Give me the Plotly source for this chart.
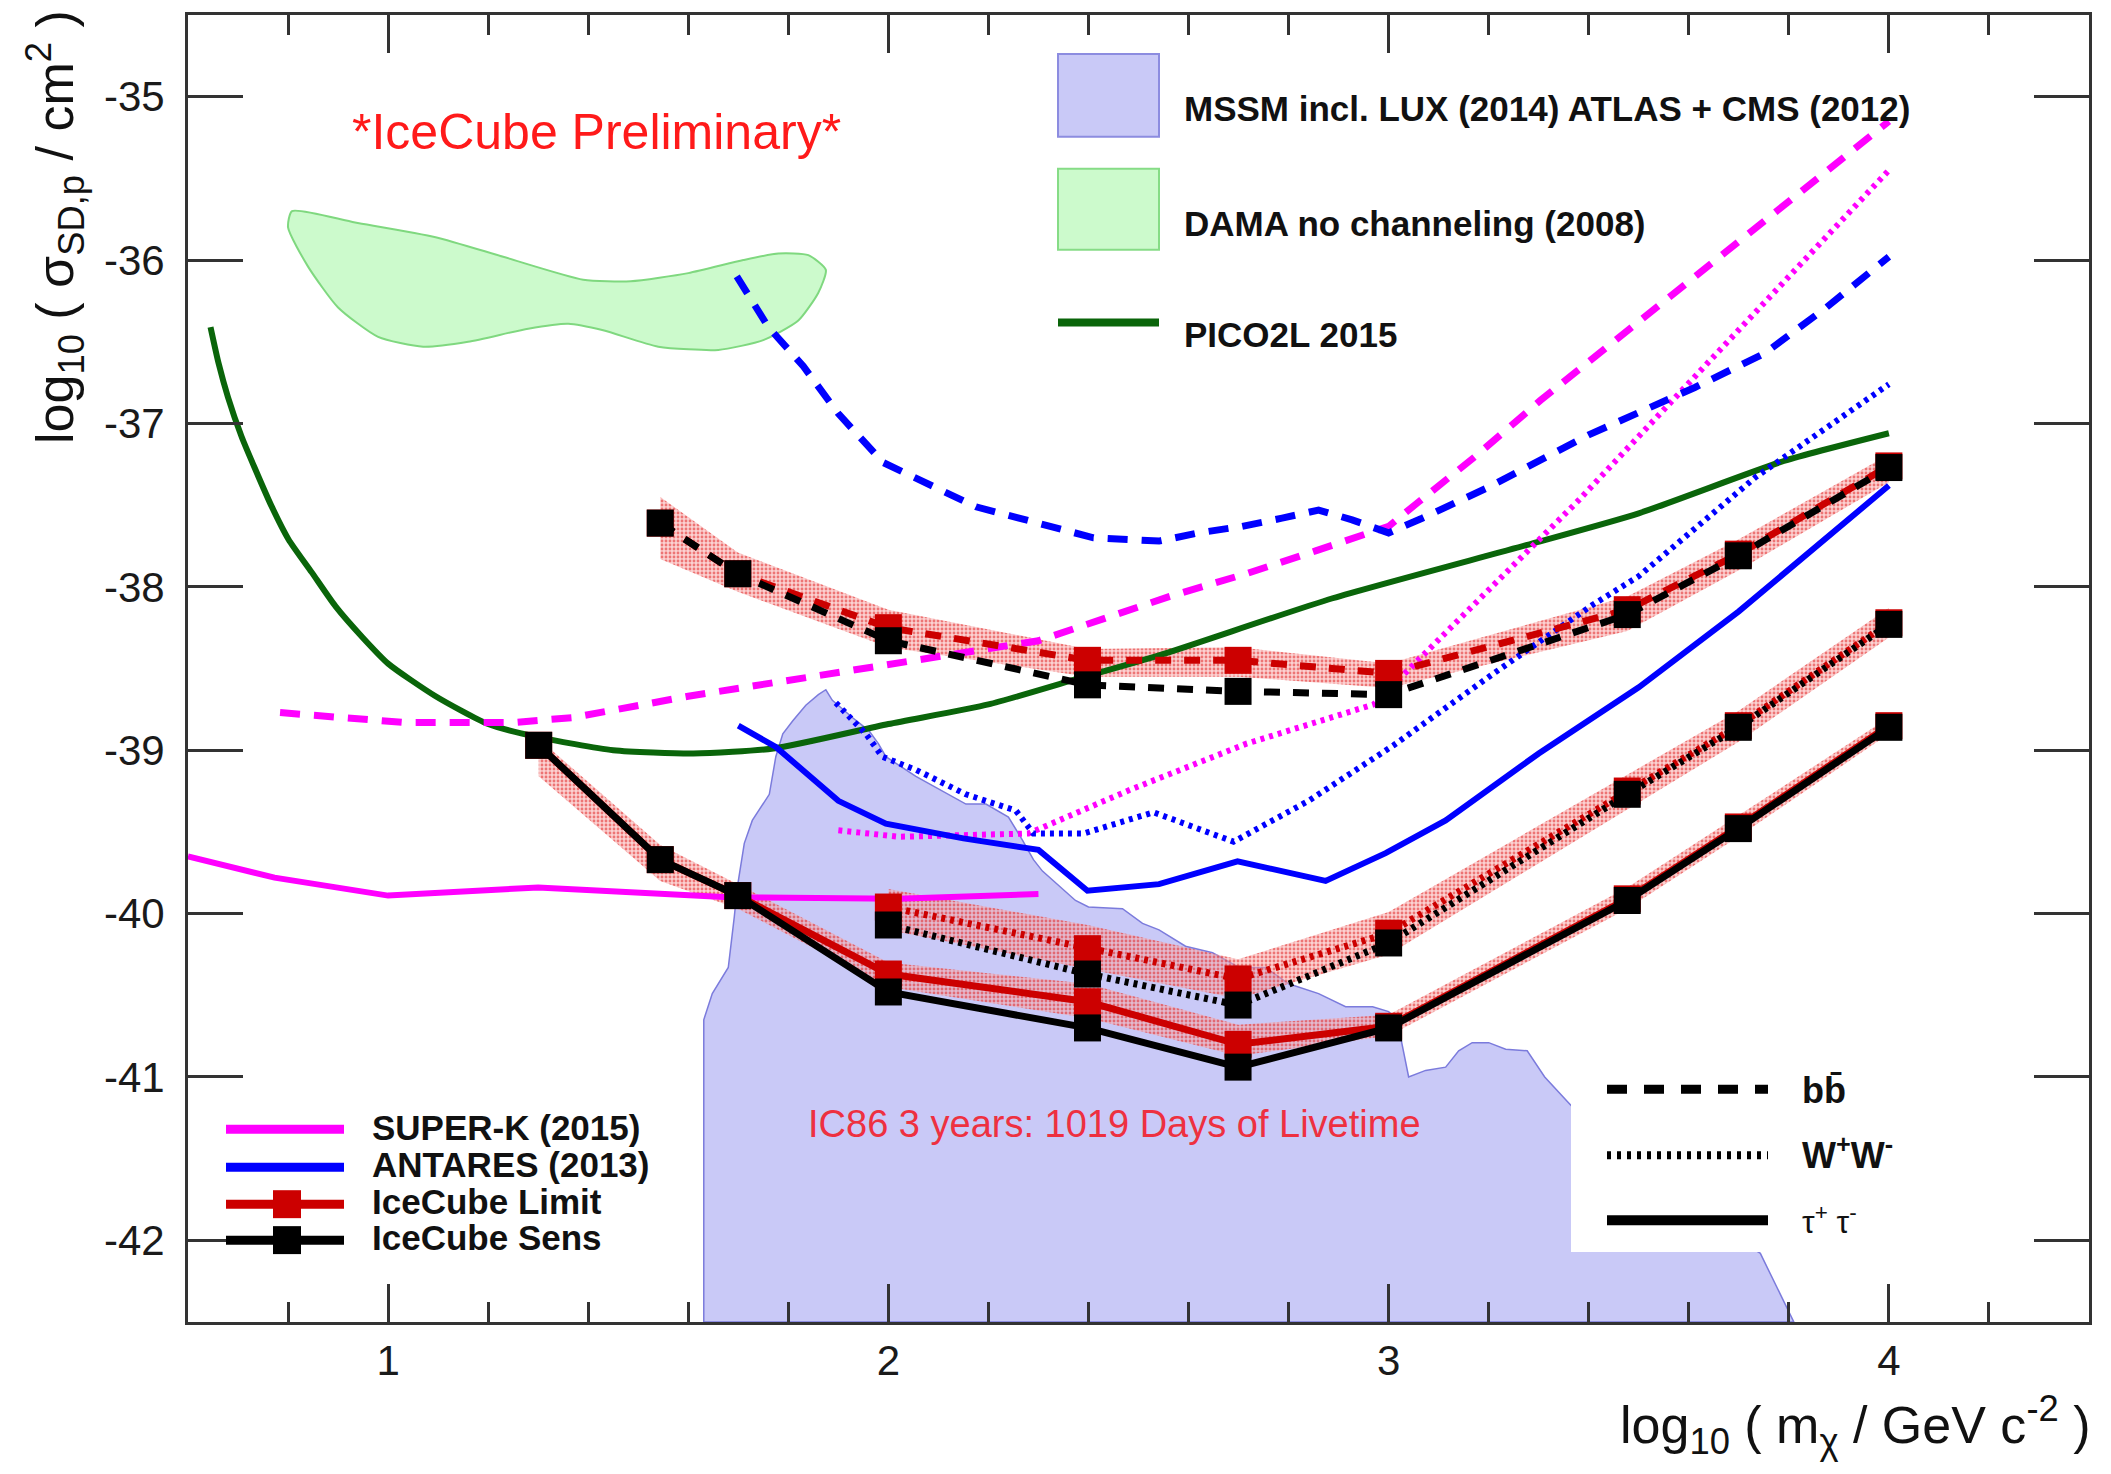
import plotly.graph_objects as go

# ---------------- data (log10 m [GeV], log10 sigma [cm^2]) ----------------
mass_bb = [1.544, 1.699, 2.0, 2.398, 2.699, 3.0, 3.477, 3.699, 4.0]
bb_sens = [-37.61, -37.92, -38.33, -38.60, -38.64, -38.66, -38.17, -37.81, -37.27]
bb_limit = [-37.61, -37.92, -38.25, -38.45, -38.45, -38.53, -38.14, -37.80, -37.26]
bb_band_lo = [-37.83, -38.03, -38.37, -38.55, -38.55, -38.62, -38.27, -37.90, -37.36]
bb_band_hi = [-37.45, -37.79, -38.14, -38.38, -38.37, -38.47, -38.06, -37.71, -37.19]

mass_ww = [2.0, 2.398, 2.699, 3.0, 3.477, 3.699, 4.0]
ww_sens = [-40.07, -40.37, -40.56, -40.18, -39.27, -38.86, -38.23]
ww_limit = [-39.96, -40.215, -40.40, -40.12, -39.25, -38.85, -38.22]
ww_band_lo = [-40.10, -40.34, -40.52, -40.25, -39.36, -38.95, -38.31]
ww_band_hi = [-39.85, -40.07, -40.28, -39.99, -39.15, -38.76, -38.13]

mass_tau = [1.301, 1.544, 1.699, 2.0, 2.398, 2.699, 3.0, 3.477, 3.699, 4.0]
tau_sens = [-38.97, -39.67, -39.89, -40.48, -40.70, -40.94, -40.70, -39.92, -39.48, -38.86]
tau_limit = [-38.97, -39.67, -39.89, -40.37, -40.54, -40.80, -40.69, -39.91, -39.47, -38.85]
tau_band_lo = [-39.16, -39.80, -39.97, -40.45, -40.64, -40.87, -40.75, -39.97, -39.53, -38.90]
tau_band_hi = [-38.93, -39.58, -39.82, -40.30, -40.43, -40.68, -40.62, -39.84, -39.40, -38.80]

pico_x = [0.645, 0.661, 0.68, 0.707, 0.733, 0.766, 0.801, 0.847, 0.895, 0.949, 1.0, 1.095,
          1.2, 1.3, 1.45, 1.61, 1.77, 2.0, 2.2, 2.37, 2.541, 2.888, 3.275, 3.50, 3.79, 4.0]
pico_y = [-36.41, -36.63, -36.84, -37.08, -37.27, -37.50, -37.71, -37.91, -38.12, -38.31,
          -38.47, -38.67, -38.84, -38.92, -39.0, -39.02, -38.99, -38.84, -38.72, -38.57,
          -38.42, -38.07, -37.745, -37.55, -37.23, -37.06]

sk_tau_x = [0.6, 0.773, 1.0, 1.30, 1.68, 2.02, 2.30]
sk_tau_y = [-39.65, -39.78, -39.89, -39.84, -39.90, -39.91, -39.88]

sk_bb_x = [0.784, 1.03, 1.255, 1.37, 1.60, 2.02, 2.30, 2.561, 2.715, 2.854, 3.0, 3.06,
           3.174, 3.303, 3.58, 3.81, 4.0]
sk_bb_y = [-38.77, -38.83, -38.83, -38.80, -38.67, -38.47, -38.33, -38.06, -37.92, -37.78,
           -37.63, -37.48, -37.20, -36.86, -36.18, -35.61, -35.15]

sk_ww_x = [1.90, 2.02, 2.28, 2.485, 2.716, 2.97, 3.38, 3.70, 4.0]
sk_ww_y = [-39.49, -39.53, -39.51, -39.24, -38.96, -38.72, -37.47, -36.43, -35.45]

ant_bb_x = [1.697, 1.76, 1.83, 1.90, 1.99, 2.175, 2.41, 2.541, 2.62, 2.707, 2.787, 2.86,
            2.927, 3.0, 3.067, 3.20, 3.40, 3.612, 3.752, 3.875, 4.0]
ant_bb_y = [-36.10, -36.41, -36.65, -36.94, -37.24, -37.51, -37.70, -37.72, -37.67, -37.63,
            -37.58, -37.53, -37.59, -37.67, -37.58, -37.39, -37.07, -36.78, -36.57, -36.29,
            -35.98]

ant_ww_x = [1.895, 1.955, 1.988, 2.055, 2.155, 2.255, 2.29, 2.39, 2.53, 2.69, 2.84, 3.01,
            3.21, 3.408, 3.50, 3.733, 4.0]
ant_ww_y = [-38.71, -38.90, -39.04, -39.12, -39.27, -39.37, -39.51, -39.51, -39.38, -39.56,
            -39.31, -38.97, -38.53, -38.11, -37.935, -37.33, -36.76]

ant_tau_x = [1.70, 1.775, 1.90, 1.995, 2.15, 2.30, 2.398, 2.541, 2.698, 2.874, 2.994, 3.114,
             3.30, 3.50, 3.70, 4.0]
ant_tau_y = [-38.85, -38.98, -39.31, -39.45, -39.54, -39.61, -39.86, -39.82, -39.68, -39.80,
             -39.63, -39.43, -39.02, -38.615, -38.15, -37.38]

mssm_x = [1.631, 1.631, 1.648, 1.68, 1.692, 1.698, 1.712, 1.728, 1.762, 1.775, 1.789, 1.809,
          1.835, 1.860, 1.875, 1.888, 1.928, 1.961, 1.98, 1.995, 2.055, 2.155, 2.195, 2.24,
          2.268, 2.29, 2.308, 2.374, 2.40, 2.468, 2.508, 2.541, 2.594, 2.648, 2.701, 2.754,
          2.80, 2.86, 2.914, 2.968, 3.0, 3.017, 3.04, 3.074, 3.114, 3.14, 3.167, 3.20, 3.234,
          3.277, 3.312, 3.36, 3.45, 3.6, 3.743, 3.779, 3.81, 1.631]
mssm_y = [-42.5, -40.65, -40.49, -40.33, -40.02, -39.84, -39.57, -39.43, -39.27, -39.04,
          -38.90, -38.82, -38.725, -38.66, -38.63, -38.695, -38.80, -38.88, -38.96, -39.04,
          -39.16, -39.33, -39.33, -39.41, -39.55, -39.67, -39.74, -39.92, -39.96, -39.97,
          -40.06, -40.10, -40.20, -40.24, -40.33, -40.33, -40.43, -40.49, -40.57, -40.57,
          -40.60, -40.65, -41.0, -40.96, -40.94, -40.84, -40.79, -40.79, -40.83, -40.84,
          -41.0, -41.16, -41.45, -41.8, -42.08, -42.31, -42.5, -42.5]

dama_x = [0.808, 0.934, 1.095, 1.23, 1.39, 1.485, 1.60, 1.71, 1.78, 1.84, 1.875, 1.86, 1.82,
          1.75, 1.66, 1.54, 1.43, 1.36, 1.28, 1.16, 1.07, 0.98, 0.90, 0.84, 0.80, 0.808]
dama_y = [-35.70, -35.77, -35.86, -35.98, -36.12, -36.13, -36.08, -36.0, -35.96, -35.97,
          -36.06, -36.20, -36.37, -36.49, -36.55, -36.53, -36.43, -36.39, -36.42, -36.50,
          -36.53, -36.47, -36.29, -36.04, -35.80, -35.70]

x_tick_vals = [1, 2, 3, 4]
x_tick_text = ["1", "2", "3", "4"]
y_tick_vals = [-42, -41, -40, -39, -38, -37, -36, -35]
y_tick_text = ["-42", "-41", "-40", "-39", "-38", "-37", "-36", "-35"]

# ---------------- layout helpers ----------------
W, H = 2111, 1474
ML, MR, MT, MB = 188, 22, 13, 152
PW, PH = W - ML - MR, H - MT - MB
FONT = "Liberation Sans, Arial, Helvetica, sans-serif"


def px(xf):
    return (xf - ML) / PW


def py(yf):
    return (H - MB - yf) / PH


RED = "#cc0000"
MAG = "#ff00ff"
BLUE = "#0000ff"
GREEN = "#0a650a"
BAND_PATTERN = dict(shape=".", fgcolor="#e01818", bgcolor="rgba(248,170,170,0.55)",
                    size=4, solidity=0.4)

fig = go.Figure()

# filled regions
fig.add_trace(go.Scatter(x=mssm_x, y=mssm_y, mode="lines", fill="toself",
                         fillcolor="#c9c9f7", line=dict(color="#7b7bdc", width=1.5),
                         hoverinfo="skip"))
fig.add_trace(go.Scatter(x=dama_x, y=dama_y, mode="lines", fill="toself",
                         fillcolor="#ccfacc", line=dict(color="#7fd87f", width=2, shape="spline",
                                                        smoothing=0.6),
                         hoverinfo="skip"))

# IceCube uncertainty bands
for m, lo, hi in [(mass_bb, bb_band_lo, bb_band_hi), (mass_ww, ww_band_lo, ww_band_hi),
                  (mass_tau, tau_band_lo, tau_band_hi)]:
    fig.add_trace(go.Scatter(x=m, y=lo, mode="lines", line=dict(width=0), hoverinfo="skip"))
    fig.add_trace(go.Scatter(x=m, y=hi, mode="lines", line=dict(width=0), fill="tonexty",
                             fillcolor="rgba(240,120,120,0.5)", fillpattern=BAND_PATTERN,
                             hoverinfo="skip"))

# other experiments
fig.add_trace(go.Scatter(x=pico_x, y=pico_y, mode="lines",
                         line=dict(color=GREEN, width=6, shape="spline", smoothing=0.6)))
fig.add_trace(go.Scatter(x=sk_tau_x, y=sk_tau_y, mode="lines", line=dict(color=MAG, width=6)))
fig.add_trace(go.Scatter(x=sk_bb_x, y=sk_bb_y, mode="lines",
                         line=dict(color=MAG, width=7, dash="20px,14px")))
fig.add_trace(go.Scatter(x=sk_ww_x, y=sk_ww_y, mode="lines",
                         line=dict(color=MAG, width=6, dash="4px,5px")))
fig.add_trace(go.Scatter(x=ant_bb_x, y=ant_bb_y, mode="lines",
                         line=dict(color=BLUE, width=7, dash="20px,14px")))
fig.add_trace(go.Scatter(x=ant_ww_x, y=ant_ww_y, mode="lines",
                         line=dict(color=BLUE, width=6, dash="4px,5px")))
fig.add_trace(go.Scatter(x=ant_tau_x, y=ant_tau_y, mode="lines", line=dict(color=BLUE, width=6)))

# IceCube limits (red) and sensitivities (black)
for m, ys, dash in [(mass_bb, bb_limit, "16px,13px"), (mass_ww, ww_limit, "4px,5px"),
                    (mass_tau, tau_limit, "solid")]:
    fig.add_trace(go.Scatter(x=m, y=ys, mode="lines+markers",
                             line=dict(color=RED, width=7, dash=dash),
                             marker=dict(symbol="square", size=27, color=RED)))
for m, ys, dash in [(mass_bb, bb_sens, "16px,13px"), (mass_ww, ww_sens, "4px,5px"),
                    (mass_tau, tau_sens, "solid")]:
    fig.add_trace(go.Scatter(x=m, y=ys, mode="lines+markers",
                             line=dict(color="black", width=7, dash=dash),
                             marker=dict(symbol="square", size=27, color="black")))

shapes = []
annotations = []


def text(x, y, s, size, color="#111", bold=False, xanchor="left", yanchor="middle", angle=0):
    if bold:
        s = "<b>" + s + "</b>"
    annotations.append(dict(x=px(x), y=py(y), xref="paper", yref="paper", text=s,
                            showarrow=False, xanchor=xanchor, yanchor=yanchor,
                            textangle=angle, font=dict(family=FONT, size=size, color=color)))


def hline(x0, x1, y, color, width, dash="solid"):
    shapes.append(dict(type="line", xref="paper", yref="paper", x0=px(x0), x1=px(x1),
                       y0=py(y), y1=py(y), line=dict(color=color, width=width, dash=dash),
                       layer="above"))


def rect(x0, y0, x1, y1, fill, line_color=None, lw=0):
    shapes.append(dict(type="rect", xref="paper", yref="paper", x0=px(x0), x1=px(x1),
                       y0=py(y1), y1=py(y0), fillcolor=fill,
                       line=dict(color=line_color or fill, width=lw), layer="above"))


# top-right legend
rect(1058, 52, 1159, 135, "#c9c9f7", "#8c8ce0", 2)
text(1182, 107, "MSSM incl. LUX (2014) ATLAS + CMS (2012)", 35, bold=True)
rect(1058, 167, 1159, 248, "#ccfacc", "#86dc86", 2)
text(1182, 222, "DAMA no channeling (2008)", 35, bold=True)
hline(1058, 1159, 321, GREEN, 8)
text(1182, 333, "PICO2L 2015", 35, bold=True)

# bottom-left legend
hline(226, 344, 1129, MAG, 9)
text(370, 1127, "SUPER-K (2015)", 35, bold=True)
hline(226, 344, 1167, BLUE, 9)
text(370, 1164, "ANTARES (2013)", 35, bold=True)
hline(226, 344, 1204, RED, 9)
rect(273, 1190, 301, 1218, RED)
text(370, 1201, "IceCube Limit", 35, bold=True)
hline(226, 344, 1240, "black", 9)
rect(273, 1226, 301, 1254, "black")
text(370, 1237, "IceCube Sens", 35, bold=True)

# bottom-right legend (white box)
rect(1571, 1058, 1905, 1252, "white")
hline(1607, 1768, 1089, "black", 9, "20px,17px")
hline(1607, 1768, 1155, "black", 8, "4px,6px")
hline(1607, 1768, 1220, "black", 10)
text(1800, 1090, "bb\u0304", 36, bold=True)
text(1800, 1153, "W<sup>+</sup>W<sup>-</sup>", 36, bold=True)
text(1800, 1220, "\u03c4<sup>+</sup> \u03c4<sup>-</sup>", 32)

# plot texts
text(350, 130, "*IceCube Preliminary*", 50, color="#ff1a1a")
text(806, 1124, "IC86 3 years: 1019 Days of Livetime", 38, color="#ee3040")

# axis titles
text(2093, 1425, "log<sub>10</sub> ( m<sub>\u03c7</sub> / GeV c<sup>-2</sup> )", 52,
     color="#111", xanchor="right")
text(55, 6, "log<sub>10</sub> ( \u03c3<sub>SD,p</sub> / cm<sup>2</sup> )", 52,
     color="#111", xanchor="center", yanchor="top", angle=-90)

axis_common = dict(showgrid=False, zeroline=False, showline=True, linewidth=3,
                   linecolor="#333", mirror="ticks", ticks="inside", tickwidth=2.5,
                   tickcolor="#333", tickfont=dict(family=FONT, size=42, color="#1a1a1a"))

fig.update_xaxes(range=[0.6, 4.4], tickmode="array", tickvals=x_tick_vals,
                 ticktext=x_tick_text, ticklen=38, ticklabelstandoff=0,
                 minor=dict(dtick=0.2, tick0=0, ticks="inside", ticklen=20, tickwidth=2.5,
                            tickcolor="#333", showgrid=False),
                 **axis_common)
fig.update_yaxes(range=[-42.5, -34.5], tickmode="array", tickvals=y_tick_vals,
                 ticktext=y_tick_text, ticklen=55, ticklabelstandoff=12, **axis_common)

fig.update_layout(width=W, height=H, margin=dict(l=ML, r=MR, t=MT, b=MB),
                  paper_bgcolor="white", plot_bgcolor="white", showlegend=False,
                  hovermode=False, shapes=shapes, annotations=annotations,
                  font=dict(family=FONT))

fig.write_html("out.html")
